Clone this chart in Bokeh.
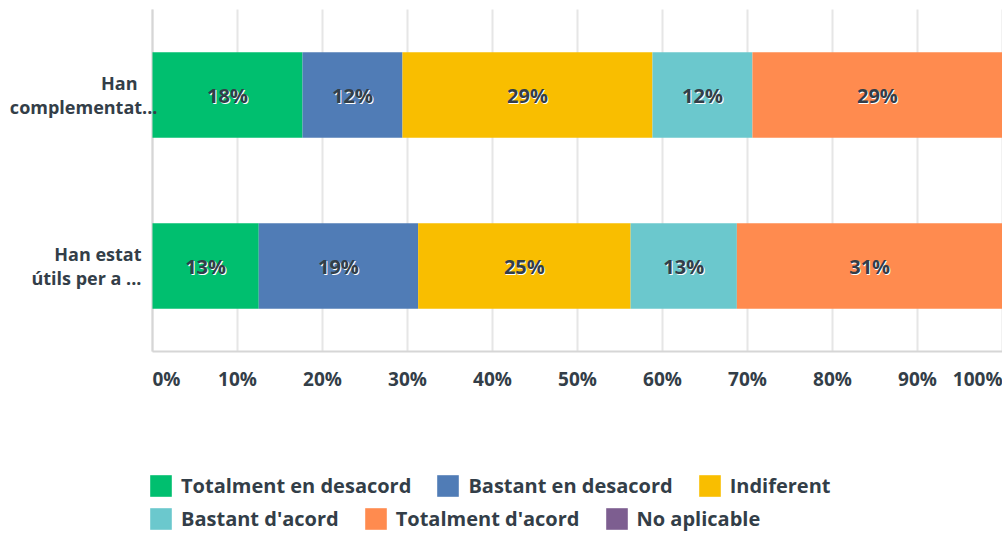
from bokeh.plotting import figure
from bokeh.models import Range1d, ColumnDataSource, Legend, LegendItem
from bokeh.core.properties import value
from bokeh.embed import file_html
from bokeh.resources import INLINE

# ---------------- data ----------------
categories = ["Han complementat", "Han estat útils per a"]
category_line1 = ["Han", "Han estat"]
category_line2 = ["complementat...", "útils per a ..."]

series = ["Totalment en desacord", "Bastant en desacord", "Indiferent",
          "Bastant d'acord", "Totalment d'acord", "No aplicable"]
colors = ["#00bf6f", "#507cb6", "#f9be00", "#6bc8cd", "#ff8b4f", "#7d5e90"]

totalment_desacord = [17.65, 12.50]
bastant_desacord = [11.76, 18.75]
indiferent = [29.41, 25.00]
bastant_acord = [11.76, 12.50]
totalment_acord = [29.41, 31.25]
no_aplicable = [0.0, 0.0]

x_ticks = [0, 10, 20, 30, 40, 50, 60, 70, 80, 90, 100]
x_tick_labels = ["0%", "10%", "20%", "30%", "40%", "50%", "60%", "70%", "80%", "90%", "100%"]

legend_row1 = series[:3]
legend_row2 = series[3:]

# ---------------- layout / styling ----------------
W, H = 1002, 536
PLOT_LEFT, PLOT_TOP, PLOT_BOTTOM = 152, 9, 351
FONT = value("Open Sans")
FONT_NAME = "Open Sans"
TEXT_COLOR = "#333e48"
AXIS_COLOR = "#d6d6d6"
GRID_COLOR = "#e6e6e6"

ncat = len(categories)
cat_pos = [ncat - i - 0.5 for i in range(ncat)]          # first category on top
x_scale = (W - PLOT_LEFT) / 100.0
y_scale = (PLOT_BOTTOM - PLOT_TOP) / float(ncat)
x_range = Range1d(-PLOT_LEFT / x_scale, 100)
y_range = Range1d(-(H - PLOT_BOTTOM) / y_scale, ncat + PLOT_TOP / y_scale)

p = figure(width=W, height=H, output_backend="svg", toolbar_location=None,
           x_range=x_range, y_range=y_range, x_axis_type=None, y_axis_type=None,
           min_border=0)
p.outline_line_color = None
p.background_fill_color = "white"
p.border_fill_color = "white"
p.grid.visible = False

# grid lines (vertical, one per tick) and axis lines
p.segment(x0=x_ticks, x1=x_ticks, y0=[0] * len(x_ticks), y1=[ncat] * len(x_ticks),
          line_color=GRID_COLOR, line_width=2)
p.segment(x0=[0], x1=[0], y0=[0], y1=[ncat], line_color=AXIS_COLOR, line_width=2)
p.segment(x0=[0], x1=[100], y0=[0], y1=[0], line_color=AXIS_COLOR, line_width=2)

# stacked bars
values = [totalment_desacord, bastant_desacord, indiferent, bastant_acord, totalment_acord, no_aplicable]
data = {"pos": cat_pos}
for s, v in zip(series, values):
    data[s] = v
src = ColumnDataSource(data)
renderers = p.hbar_stack(series, y="pos", height=0.5, color=colors, source=src, line_color=None)

# bar value labels (dark text with a white shadow)
lx, ly, lt = [], [], []
for i in range(ncat):
    left = 0.0
    for v in values:
        if v[i] > 0:
            lx.append(left + v[i] / 2.0)
            ly.append(cat_pos[i])
            lt.append(f"{int(v[i] + 0.5)}%")
        left += v[i]
lsrc = ColumnDataSource(dict(x=lx, y=ly, t=lt))
for col, off in (("white", 1), (TEXT_COLOR, 0)):
    p.text(x="x", y="y", text="t", source=lsrc, text_font=FONT, text_font_style="bold",
           text_font_size="20px", text_color=col, text_align="center",
           text_baseline="middle", x_offset=off, y_offset=off)

# x tick labels (first left-aligned, last right-aligned)
def tick_text(xs, labs, align):
    p.text(x=xs, y=[0] * len(xs), text=labs, text_font=FONT, text_font_style="bold",
           text_font_size="19px", text_color=TEXT_COLOR, text_align=align,
           text_baseline="middle", y_offset=27)

tick_text(x_ticks[:1], x_tick_labels[:1], "left")
tick_text(x_ticks[1:-1], x_tick_labels[1:-1], "center")
tick_text(x_ticks[-1:], x_tick_labels[-1:], "right")

# category labels (two lines each, right aligned next to the axis)
csrc1 = ColumnDataSource(dict(x=[0] * ncat, y=cat_pos, t=category_line1, dx=[-15, -11]))
csrc2 = ColumnDataSource(dict(x=[0] * ncat, y=cat_pos, t=category_line2, dx=[5, -11]))
for s, dy in ((csrc1, -12), (csrc2, 12)):
    p.text(x="x", y="y", text="t", source=s, x_offset="dx", y_offset=dy,
           text_font=FONT, text_font_style="bold", text_font_size="18px",
           text_color=TEXT_COLOR, text_align="right", text_baseline="middle")

# legends (two rows)
rmap = dict(zip(series, renderers))
def make_legend(names, loc):
    return Legend(items=[LegendItem(label=nm, renderers=[rmap[nm]]) for nm in names],
                  orientation="horizontal", location=loc, glyph_width=27, glyph_height=27,
                  label_standoff=7, spacing=23, padding=0, margin=0,
                  border_line_color=None, background_fill_alpha=0,
                  label_text_font=FONT_NAME, label_text_font_style="bold",
                  label_text_font_size="20px", label_text_color=TEXT_COLOR,
                  label_height=27)

p.add_layout(make_legend(legend_row1, (147, H - 499)), "center")
p.add_layout(make_legend(legend_row2, (147, H - 532)), "center")

open("out.html", "w").write(file_html(p, INLINE))
